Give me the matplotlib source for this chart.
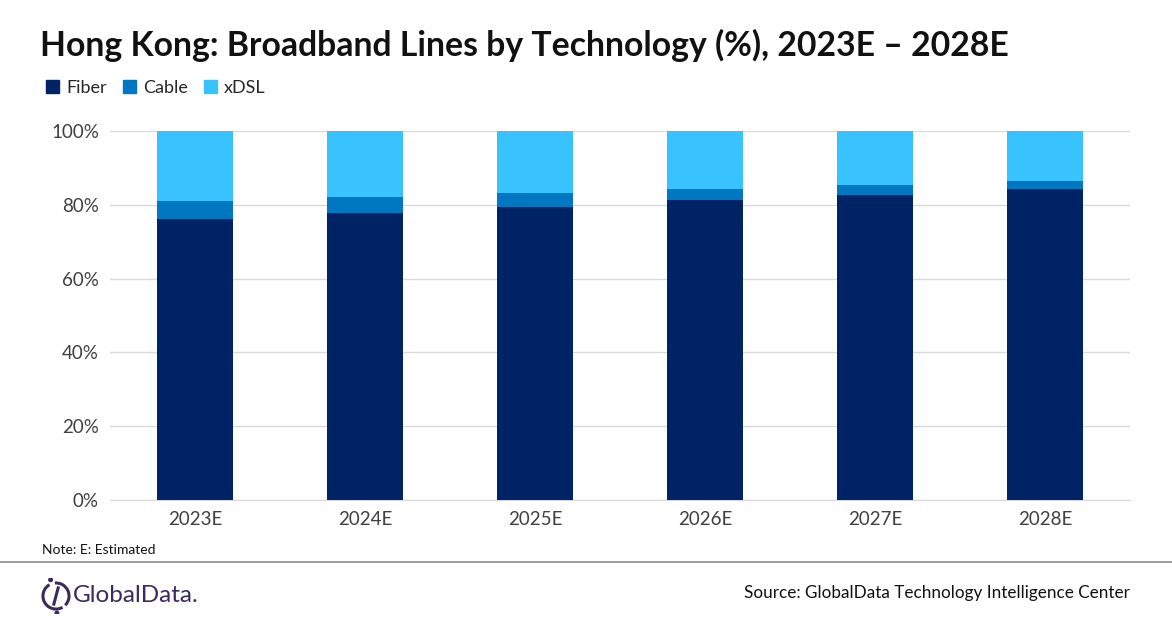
import matplotlib.pyplot as plt
import numpy as np
from matplotlib.patches import Arc, Circle
from matplotlib.lines import Line2D

years = ['2023E', '2024E', '2025E', '2026E', '2027E', '2028E']
fiber = [76.2, 77.8, 79.4, 81.3, 82.7, 84.3]
cable = [4.8, 4.3, 3.8, 3.0, 2.7, 2.1]
xdsl = [100 - f - c for f, c in zip(fiber, cable)]

colors = {'Fiber': '#002366', 'Cable': '#0077C0', 'xDSL': '#38C3FF'}

plt.rcParams['font.family'] = ['Lato', 'DejaVu Sans']

fig = plt.figure(figsize=(11.72, 6.28), dpi=100)
ax = fig.add_axes([110 / 1172, 1 - 500 / 628, 1020 / 1172, 369 / 628])

x = np.arange(len(years))
width = 0.45
ax.bar(x, fiber, width, color=colors['Fiber'], label='Fiber', zorder=3)
ax.bar(x, cable, width, bottom=fiber, color=colors['Cable'], label='Cable', zorder=3)
bottom2 = [f + c for f, c in zip(fiber, cable)]
ax.bar(x, xdsl, width, bottom=bottom2, color=colors['xDSL'], label='xDSL', zorder=3)

ax.set_xlim(-0.5, len(years) - 0.5)
ax.set_ylim(0, 100)
ax.set_yticks(np.arange(0, 101, 20))
ax.set_yticklabels(['{}%'.format(v) for v in range(0, 101, 20)])
ax.set_xticks(x)
ax.set_xticklabels(years)
ax.tick_params(axis='both', length=0, labelsize=13.5, colors='#404040', pad=8)
ax.yaxis.grid(True, color='#d9d9d9', linewidth=1, zorder=0)
for side in ['top', 'right', 'left']:
    ax.spines[side].set_visible(False)
ax.spines['bottom'].set_color('#d9d9d9')

fig.text(40 / 1172, 1 - 45 / 628, 'Hong Kong: Broadband Lines by Technology (%), 2023E \u2013 2028E',
         fontsize=24.3, fontweight='bold', color='#111111', va='center', ha='left')

handles = [plt.Rectangle((0, 0), 1, 1, color=colors[k]) for k in ['Fiber', 'Cable', 'xDSL']]
fig.legend(handles, ['Fiber', 'Cable', 'xDSL'], loc='center left',
           bbox_to_anchor=(30 / 1172, 1 - 88 / 628), ncol=3, frameon=False,
           fontsize=13, handlelength=0.7, handleheight=0.7, handletextpad=0.4,
           columnspacing=0.9, labelcolor='#262626')

fig.text(42 / 1172, 1 - 550 / 628, 'Note: E: Estimated', fontsize=10, color='#111111',
         va='center', ha='left')
fig.add_artist(Line2D([0, 1], [1 - 562 / 628] * 2, color='#8c8c8c', linewidth=1.2))

fig.text(1130 / 1172, 1 - 593 / 628, 'Source: GlobalData Technology Intelligence Center',
         fontsize=12.3, color='#111111', va='center', ha='right')

# logo
purple = '#3b2a5c'
lax = fig.add_axes([38 / 1172, 1 - 614 / 628, 36 / 1172, 36 / 628])
lax.set_xlim(-1, 1)
lax.set_ylim(-1, 1)
lax.set_aspect('equal')
lax.axis('off')
lax.add_patch(Arc((0, 0), 1.45, 1.45, theta1=120, theta2=300, color=purple, linewidth=2.2))
lax.add_patch(Arc((0, 0), 1.45, 1.45, theta1=-45, theta2=95, color=purple, linewidth=2.2))
lax.plot([0.12, -0.12], [0.45, -0.45], color=purple, linewidth=2.2)
lax.add_patch(Circle((-0.3, 0.9), 0.1, color=purple))
lax.add_patch(Circle((0.05, -0.95), 0.1, color=purple))
fig.text(73 / 1172, 1 - 595 / 628, 'GlobalData.', fontsize=17.5, color=purple,
         va='center', ha='left')

fig.savefig('out.png', dpi=100)
